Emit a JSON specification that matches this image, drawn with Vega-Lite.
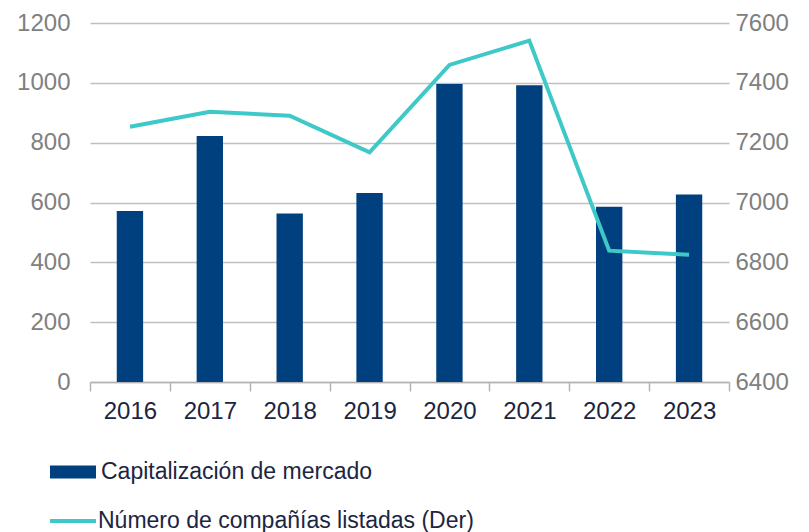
{
  "$schema": "https://vega.github.io/schema/vega-lite/v6.json",
  "autosize": "none",
  "width": 639,
  "height": 359,
  "padding": {"left": 90, "top": 23, "right": 80, "bottom": 150},
  "background": "white",
  "config": {
    "view": {"stroke": null},
    "font": "Liberation Sans"
  },
  "data": {
    "values": [
      {"year": "2016", "cap": 572, "num": 7253, "s1": "Capitalización de mercado", "s2": "Número de compañías listadas (Der)"},
      {"year": "2017", "cap": 822, "num": 7303, "s1": "Capitalización de mercado", "s2": "Número de compañías listadas (Der)"},
      {"year": "2018", "cap": 563, "num": 7290, "s1": "Capitalización de mercado", "s2": "Número de compañías listadas (Der)"},
      {"year": "2019", "cap": 632, "num": 7168, "s1": "Capitalización de mercado", "s2": "Número de compañías listadas (Der)"},
      {"year": "2020", "cap": 996, "num": 7460, "s1": "Capitalización de mercado", "s2": "Número de compañías listadas (Der)"},
      {"year": "2021", "cap": 992, "num": 7541, "s1": "Capitalización de mercado", "s2": "Número de compañías listadas (Der)"},
      {"year": "2022", "cap": 586, "num": 6839, "s1": "Capitalización de mercado", "s2": "Número de compañías listadas (Der)"},
      {"year": "2023", "cap": 627, "num": 6825, "s1": "Capitalización de mercado", "s2": "Número de compañías listadas (Der)"}
    ]
  },
  "encoding": {
    "x": {
      "field": "year",
      "type": "ordinal",
      "scale": {"paddingInner": 0, "paddingOuter": 0},
      "axis": {
        "title": null,
        "labelAngle": 0,
        "labelFontSize": 24,
        "labelColor": "#1c2541",
        "labelPadding": 8,
        "domainColor": "#b3b3b3",
        "domainWidth": 1.5,
        "tickColor": "#b3b3b3",
        "tickWidth": 1.5,
        "tickSize": 9,
        "tickBand": "extent",
        "grid": false
      }
    }
  },
  "layer": [
    {
      "mark": {"type": "bar", "width": {"band": 0.33}},
      "encoding": {
        "y": {
          "field": "cap",
          "type": "quantitative",
          "scale": {"domain": [0, 1200], "nice": false},
          "axis": {
            "title": null,
            "values": [0, 200, 400, 600, 800, 1000, 1200],
            "format": "d",
            "labelFontSize": 24,
            "labelColor": "#808080",
            "labelPadding": 20,
            "domain": false,
            "ticks": false,
            "grid": true,
            "gridColor": "#c0c0c0",
            "gridWidth": 1.5
          }
        },
        "fill": {
          "field": "s1",
          "type": "nominal",
          "scale": {"range": ["#00407f"]},
          "legend": {
            "title": null,
            "orient": "none",
            "legendX": -40,
            "legendY": 426,
            "symbolType": "M-1,-0.28L1,-0.28L1,0.28L-1,0.28Z",
            "symbolSize": 2116,
            "symbolStrokeWidth": 0,
            "labelFontSize": 23,
            "labelLimit": 600,
            "labelColor": "#1c2541",
            "labelOffset": 5
          }
        }
      }
    },
    {
      "mark": {"type": "line", "strokeWidth": 4},
      "encoding": {
        "y": {
          "field": "num",
          "type": "quantitative",
          "scale": {"domain": [6400, 7600], "nice": false, "zero": false},
          "axis": {
            "title": null,
            "orient": "right",
            "values": [6400, 6600, 6800, 7000, 7200, 7400, 7600],
            "format": "d",
            "labelFontSize": 24,
            "labelColor": "#808080",
            "labelPadding": 6,
            "domain": false,
            "ticks": false,
            "grid": false
          }
        },
        "stroke": {
          "field": "s2",
          "type": "nominal",
          "scale": {"range": ["#3ec8c8"]},
          "legend": {
            "title": null,
            "orient": "none",
            "legendX": -42,
            "legendY": 473,
            "symbolType": "stroke",
            "symbolSize": 2116,
            "symbolStrokeWidth": 4,
            "labelFontSize": 23,
            "labelLimit": 600,
            "labelColor": "#1c2541",
            "labelOffset": 0
          }
        }
      }
    }
  ],
  "resolve": {"scale": {"y": "independent", "fill": "independent", "stroke": "independent"}}
}
